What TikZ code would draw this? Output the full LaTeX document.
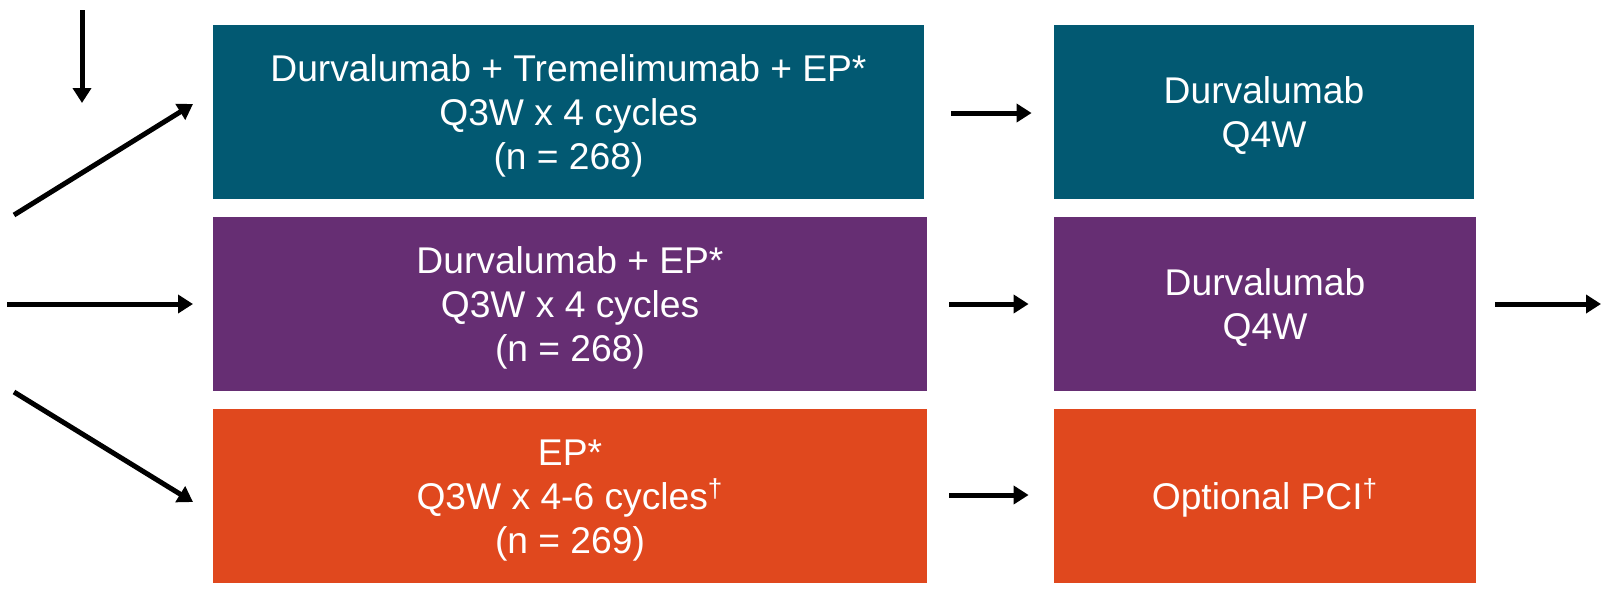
\documentclass[tikz,border=0pt]{standalone}
\usepackage{fontspec}
\setmainfont{Liberation Sans}
\usetikzlibrary{arrows.meta}
\definecolor{tealbox}{RGB}{2,89,114}
\definecolor{purplebox}{RGB}{102,46,115}
\definecolor{orangebox}{RGB}{224,72,30}
\newcommand\toppad{\rule{0pt}{17.4pt}}
\begin{document}
\begin{tikzpicture}[x=0.5pt,y=-0.5pt,
  box/.style={rectangle, inner sep=0pt, text=white, align=center,
    font=\fontsize{18.6pt}{22pt}\selectfont, minimum height=87pt},
  arr/.style={line width=2.5pt, -{Triangle[length=7.5pt,width=9pt]}},
  gaparr/.style={arr, shorten <=11pt, shorten >=12.5pt}]
\useasboundingbox (0,0) rectangle (1613,591);
\node[box, fill=tealbox, minimum width=355.5pt] (t1) at (568.5,112)
  {\toppad Durvalumab + Tremelimumab + EP*\\Q3W x 4 cycles\\(n = 268)};
\node[box, fill=purplebox, minimum width=357pt] (p1) at (570,304)
  {\toppad Durvalumab + EP*\\Q3W x 4 cycles\\(n = 268)};
\node[box, fill=orangebox, minimum width=357pt] (o1) at (570,496)
  {\toppad EP*\\Q3W x 4-6 cycles\textsuperscript{†}\\(n = 269)};
\node[box, fill=tealbox, minimum width=210pt] (t2) at (1264,112)
  {\toppad Durvalumab\\Q4W};
\node[box, fill=purplebox, minimum width=211pt] (p2) at (1265,304)
  {\toppad Durvalumab\\Q4W};
\node[box, fill=orangebox, minimum width=211pt] (o2) at (1265,496)
  {\toppad Optional PCI\textsuperscript{†}};
% left arrows
\coordinate (d0) at (82,10);
\coordinate (d1) at (82,103);
\coordinate (u0) at (14,215);
\coordinate (u1) at (193,104);
\coordinate (h0) at (7,304);
\coordinate (h1) at (193,304);
\coordinate (l0) at (14,392);
\coordinate (l1) at (193,502);
\coordinate (r1) at (1601,304);
\draw[arr] (d0) -- (d1);
\draw[arr] (u0) -- (u1);
\draw[arr] (h0) -- (h1);
\draw[arr] (l0) -- (l1);
% middle arrows
\draw[arr, shorten <=13.5pt, shorten >=11pt] (t1.east |- 0,113) -- (t2.west |- 0,113);
\draw[gaparr] (p1.east) -- (p2.west);
\draw[gaparr] (o1.east |- 0,495) -- (o2.west |- 0,495);
% right arrow
\draw[arr, shorten <=9.5pt] (p2.east) -- (r1);
\end{tikzpicture}
\end{document}
